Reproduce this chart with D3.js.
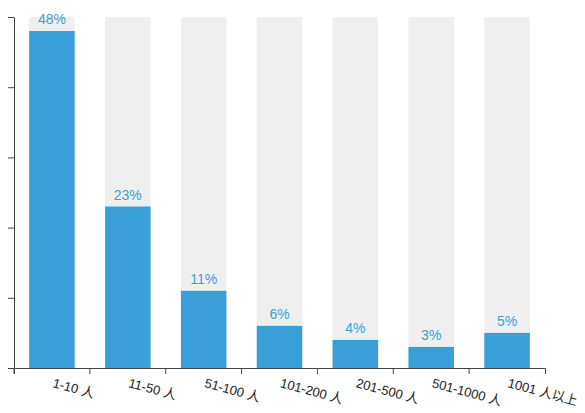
<!DOCTYPE html>
<meta charset="utf-8">
<style>
  body { margin: 0; background: #fff; }
  text { font-family: "Liberation Sans", Arial, "Noto Sans CJK SC", sans-serif; }
  .axis path, .axis line { stroke: #444; }
</style>
<svg width="585" height="413"></svg>
<script src="https://cdn.jsdelivr.net/npm/d3@7/dist/d3.min.js"></script>
<script>
const categories = ["1-10 人", "11-50 人", "51-100 人", "101-200 人", "201-500 人", "501-1000 人", "1001 人以上"];
const values = [48, 23, 11, 6, 4, 3, 5];
const yTicks = [0, 10, 20, 30, 40, 50];

const svg = d3.select("svg");
const margin = { left: 14, right: 40, top: 17, bottom: 45 };
const width = 585 - margin.left - margin.right;
const height = 413 - margin.top - margin.bottom;

const g = svg.append("g")
  .attr("transform", `translate(${margin.left},${margin.top})`);

const x = d3.scaleBand()
  .domain(categories)
  .range([0, width])
  .paddingInner(0.4)
  .paddingOuter(0.2);

const y = d3.scaleLinear()
  .domain([0, 50])
  .range([height, 0]);

// gray background bars
g.append("g").selectAll("rect")
  .data(categories)
  .enter().append("rect")
    .attr("x", d => x(d))
    .attr("y", y(50))
    .attr("width", x.bandwidth())
    .attr("height", height)
    .attr("fill", "#efefef");

// blue bars
g.append("g").selectAll("rect")
  .data(values)
  .enter().append("rect")
    .attr("x", (d, i) => x(categories[i]))
    .attr("y", d => y(d))
    .attr("width", x.bandwidth())
    .attr("height", d => height - y(d))
    .attr("fill", "#3a9fd9");

// value labels
g.append("g").selectAll("text")
  .data(values)
  .enter().append("text")
    .attr("x", (d, i) => x(categories[i]) + x.bandwidth() / 2)
    .attr("y", d => y(d) - 7)
    .attr("text-anchor", "middle")
    .attr("font-size", 14)
    .attr("fill", "#3a9fd9")
    .text(d => d + "%");

// y axis, no labels
g.append("g")
  .attr("class", "axis")
  .call(d3.axisLeft(y).tickValues(yTicks).tickFormat("").tickSize(6).tickSizeOuter(0));

// x axis with ticks at band edges
const xAxis = g.append("g")
  .attr("class", "axis")
  .attr("transform", `translate(0,${height})`)
  .call(d3.axisBottom(x).tickSize(6).tickSizeOuter(6));

xAxis.selectAll(".tick line")
  .attr("x1", -x.step() / 2)
  .attr("x2", -x.step() / 2);

xAxis.selectAll(".tick text")
  .attr("x", 0)
  .attr("y", 0)
  .attr("dy", 0)
  .attr("transform", "translate(0,19) rotate(15)")
  .attr("text-anchor", "start")
  .attr("font-size", 13)
  .attr("fill", "#222");
</script>
